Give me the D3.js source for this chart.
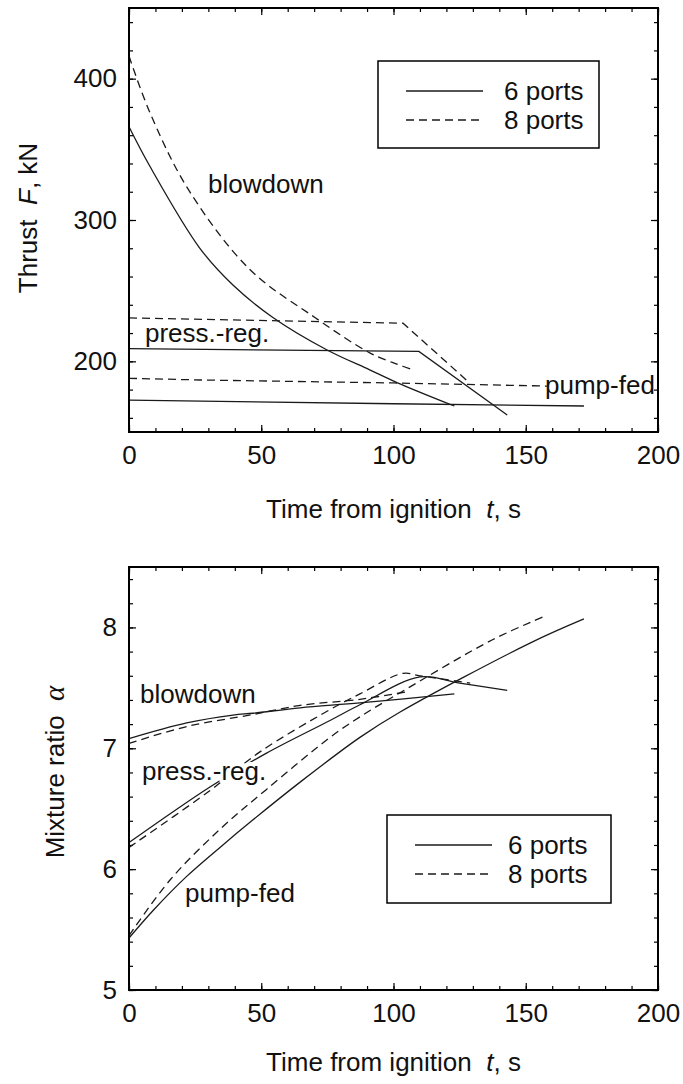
<!DOCTYPE html>
<html><head><meta charset="utf-8">
<script src="https://cdn.jsdelivr.net/npm/d3@7"></script>
<style>
body{margin:0;background:#fff;}
svg{display:block;font-family:"Liberation Sans",Arial,sans-serif;}
</style></head><body>
<svg id="c" width="683" height="1084"></svg>
<script>
// ---- data ----
const timeTicks = [0, 50, 100, 150, 200];
const timeMinor = d3.range(0, 201, 10);
const thrustTicks = [200, 300, 400];
const thrustMinor = d3.range(160, 450, 20);
const ratioTicks = [5, 6, 7, 8];
const ratioMinor = d3.range(5, 8.5, 0.2);
const legendLabels = ["6 ports", "8 ports"];
const modeLabels = ["blowdown", "press.-reg.", "pump-fed"];

// Thrust F, kN vs time t, s
const thrustBlowdown6 = [[0,366],[7.9,338],[26.8,280],[39.3,254],[54.4,231],[74.9,208],[91,194],[101.3,185],[123,168.4]];
const thrustBlowdown8 = [[0,416],[7.9,376],[22.3,322],[45.7,265],[70.3,231],[91,206],[101.3,198],[107.4,194]];
const thrustPress6 = [[0,209],[109.6,207],[143,162]];
const thrustPress8 = [[0,230.7],[103.6,227],[128,186]];
const thrustPump6 = [[0,172.6],[100,170],[172,168.4]];
const thrustPump8 = [[0,188],[27,186.8],[100,184.7],[158,182.5]];

// Mixture ratio alpha vs time t, s
const ratioBlowdown6 = [[0,7.08],[21.8,7.21],[39.3,7.275],[47,7.29],[64.7,7.335],[87.3,7.375],[123,7.45]];
const ratioBlowdown8 = [[0,7.04],[21.8,7.18],[47,7.28],[64.7,7.355],[87.3,7.405],[105.6,7.47]];
const ratioPress6 = [[0,6.22],[30.6,6.68],[52,6.96],[76,7.23],[87.3,7.36],[110,7.59],[125,7.54],[143,7.48]];
const ratioPress8 = [[0,6.18],[30,6.64],[49.5,6.97],[76,7.32],[87.3,7.45],[103.6,7.62],[110,7.6],[129,7.54]];
const ratioPump6 = [[0,5.43],[9.2,5.66],[21.8,5.94],[34.4,6.18],[47,6.41],[64.7,6.72],[87.3,7.09],[102.5,7.30],[151.6,7.87],[172,8.07]];
const ratioPump8 = [[0,5.45],[15.5,5.91],[34.4,6.33],[52,6.66],[76,7.09],[87.3,7.26],[102.5,7.46],[137.6,7.9],[158,8.1]];

// ---- drawing ----
const svg = d3.select("#c");
const FS = 26;
const ink = "#1a1a1a";
const dash = "8,5";

function panel(opt) {
  const x = d3.scaleLinear().domain([0, 200]).range([opt.left, opt.right]);
  const y = d3.scaleLinear().domain(opt.yDomain).range([opt.bottom, opt.top]);
  const g = svg.append("g");

  // minor / mirrored ticks on all four sides
  const ax = [
    [d3.axisBottom(x), `translate(0,${opt.bottom})`, opt.xMinor, -4],
    [d3.axisTop(x), `translate(0,${opt.top})`, opt.xMinor, -4],
    [d3.axisLeft(y), `translate(${opt.left},0)`, opt.yMinor, -4],
    [d3.axisRight(y), `translate(${opt.right},0)`, opt.yMinor, -4],
    [d3.axisTop(x), `translate(0,${opt.top})`, opt.xMajor, -7],
    [d3.axisRight(y), `translate(${opt.right},0)`, opt.yMajor, -7]
  ];
  ax.forEach(([a, tr, vals, sz]) => {
    const gg = g.append("g").attr("transform", tr)
      .call(a.tickValues(vals).tickSize(sz).tickFormat(""));
    gg.select(".domain").remove();
    gg.selectAll("line").attr("stroke", "#000").attr("stroke-width", 1.2);
  });
  // labelled axes
  const bx = g.append("g").attr("transform", `translate(0,${opt.bottom})`)
    .call(d3.axisBottom(x).tickValues(opt.xMajor).tickSize(-7).tickPadding(14).tickFormat(d3.format("d")));
  const ly = g.append("g").attr("transform", `translate(${opt.left},0)`)
    .call(d3.axisLeft(y).tickValues(opt.yMajor).tickSize(-7).tickPadding(12).tickFormat(d3.format("d")));
  [bx, ly].forEach(gg => {
    gg.select(".domain").remove();
    gg.selectAll("line").attr("stroke", "#000").attr("stroke-width", 1.2);
    gg.selectAll("text").attr("font-size", FS).attr("fill", "#111")
      .attr("font-family", '"Liberation Sans",Arial,sans-serif');
  });

  // series
  opt.series.forEach(s => {
    const line = d3.line().x(d => x(d[0])).y(d => y(d[1]))
      .curve(s.smooth ? d3.curveCatmullRom.alpha(0.5) : d3.curveLinear);
    g.append("path").attr("d", line(s.data))
      .attr("fill", "none").attr("stroke", ink).attr("stroke-width", 1.3)
      .attr("stroke-dasharray", s.dashed ? dash : null);
  });

  // frame
  g.append("rect").attr("x", opt.left).attr("y", opt.top)
    .attr("width", opt.right - opt.left).attr("height", opt.bottom - opt.top)
    .attr("fill", "none").attr("stroke", "#000").attr("stroke-width", 2);

  // mode labels
  opt.labels.forEach(l => {
    const t = g.append("text").attr("x", l.x).attr("y", l.y)
      .attr("font-size", FS).attr("fill", "#111").text(l.text);
    if (l.halo) t.attr("stroke", "#fff").attr("stroke-width", 8)
      .attr("stroke-linejoin", "round").attr("paint-order", "stroke");
  });

  // legend
  const L = opt.legend;
  g.append("rect").attr("x", L.x).attr("y", L.y).attr("width", L.w).attr("height", L.h)
    .attr("fill", "#fff").attr("stroke", "#000").attr("stroke-width", 1.5);
  legendLabels.forEach((lab, i) => {
    const yy = L.y + 30 + i * 29;
    g.append("line").attr("x1", L.x + 28).attr("x2", L.x + 105).attr("y1", yy).attr("y2", yy)
      .attr("stroke", ink).attr("stroke-width", 1.3).attr("stroke-dasharray", i ? dash : null);
    g.append("text").attr("x", L.x + L.tx).attr("y", yy + 9).attr("font-size", FS)
      .attr("fill", "#111").text(lab);
  });

  // x title
  const xt = g.append("text").attr("x", (opt.left + opt.right) / 2).attr("y", opt.xTitleY)
    .attr("text-anchor", "middle").attr("font-size", FS).attr("fill", "#111");
  xt.append("tspan").text("Time from ignition\u00a0\u00a0");
  xt.append("tspan").attr("font-style", "italic").text("t");
  xt.append("tspan").text(", s");

  // y title
  const yt = g.append("text")
    .attr("transform", `translate(${opt.yTitleX},${opt.yTitleC}) rotate(-90)`)
    .attr("text-anchor", "middle").attr("font-size", FS).attr("fill", "#111");
  opt.yTitle(yt);
  return {x, y};
}

panel({
  left: 129, right: 658, top: 8, bottom: 432,
  yDomain: [150, 450],
  xMajor: timeTicks, xMinor: timeMinor,
  yMajor: thrustTicks, yMinor: thrustMinor,
  series: [
    {data: thrustBlowdown6, dashed: false, smooth: true},
    {data: thrustBlowdown8, dashed: true, smooth: true},
    {data: thrustPress6, dashed: false, smooth: false},
    {data: thrustPress8, dashed: true, smooth: false},
    {data: thrustPump6, dashed: false, smooth: false},
    {data: thrustPump8, dashed: true, smooth: false}
  ],
  labels: [
    {text: modeLabels[0], x: 208, y: 193},
    {text: modeLabels[1], x: 145, y: 342},
    {text: modeLabels[2], x: 545, y: 394}
  ],
  legend: {x: 378, y: 61, w: 221, h: 87, tx: 126},
  xTitleY: 518,
  yTitleX: 37, yTitleC: 218,
  yTitle: t => {
    t.append("tspan").text("Thrust\u00a0\u00a0");
    t.append("tspan").attr("font-style", "italic").text("F");
    t.append("tspan").text(", kN");
  }
});

panel({
  left: 129, right: 658, top: 567, bottom: 990,
  yDomain: [5, 8.5],
  xMajor: timeTicks, xMinor: timeMinor,
  yMajor: ratioTicks, yMinor: ratioMinor,
  series: [
    {data: ratioBlowdown6, dashed: false, smooth: true},
    {data: ratioBlowdown8, dashed: true, smooth: true},
    {data: ratioPress6, dashed: false, smooth: true},
    {data: ratioPress8, dashed: true, smooth: true},
    {data: ratioPump6, dashed: false, smooth: true},
    {data: ratioPump8, dashed: true, smooth: true}
  ],
  labels: [
    {text: modeLabels[0], x: 140, y: 703, halo: true},
    {text: modeLabels[1], x: 142, y: 780, halo: true},
    {text: modeLabels[2], x: 185, y: 902, halo: true}
  ],
  legend: {x: 387, y: 815, w: 224, h: 88, tx: 121},
  xTitleY: 1071,
  yTitleX: 64, yTitleC: 772,
  yTitle: t => {
    t.append("tspan").text("Mixture ratio\u00a0\u00a0");
    t.append("tspan").attr("font-style", "italic").attr("font-size", 29)
      .attr("font-family", '"Liberation Serif","Times New Roman",serif').text("\u03b1");
  }
});
</script>
</body></html>
